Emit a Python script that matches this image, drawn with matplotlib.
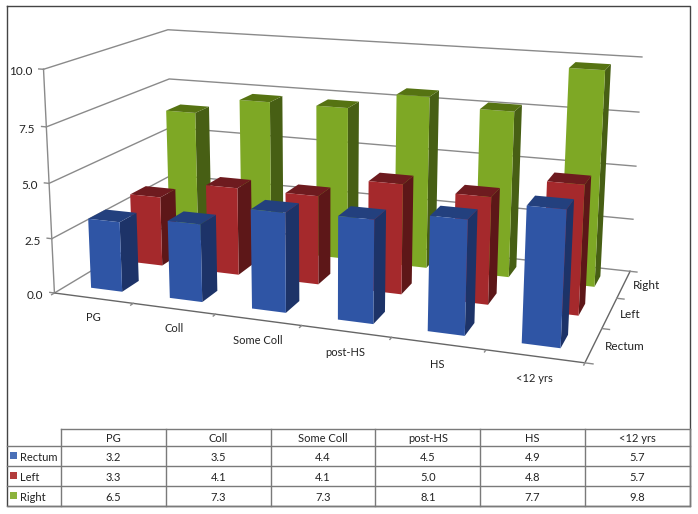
import numpy as np
import matplotlib
matplotlib.use('Agg')
from matplotlib import pyplot as plt

plt.rcParams['font.family'] = ['Lato', 'DejaVu Sans']

# data
categories = ['PG', 'Coll', 'Some Coll', 'post-HS', 'HS', '<12 yrs']
series_names = ['Rectum', 'Left', 'Right']
rectum = [3.2, 3.5, 4.4, 4.5, 4.9, 5.7]
left = [3.3, 4.1, 4.1, 5.0, 4.8, 5.7]
right = [6.5, 7.3, 7.3, 8.1, 7.7, 9.8]
z_ticks = [0.0, 2.5, 5.0, 7.5, 10.0]

# front, side, top colours of each series
front_colors = ['#2f55a5', '#a5292c', '#7ea825']
side_colors = ['#1d3368', '#5d1718', '#475f14']
top_colors = ['#23407e', '#6e1b1f', '#567312']
swatch_colors = ['#4a70b8', '#b33c3c', '#8cb33c']
grid_color = '#8a8a8a'
text_color = '#222222'

BAR_W = 0.4
W, H = 698, 514

# camera: where some corners of the box are in the picture (x, depth, z) -> pixel
cam_xyz = np.array([[0, 0, 0], [0, 0, 2.5], [0, 0, 5], [0, 0, 7.5], [0, 0, 10],
                    [6, 0, 0],
                    [0, 3, 0], [0, 3, 7.5], [0, 3, 10],
                    [6, 3, 0], [6, 3, 2.5], [6, 3, 5], [6, 3, 7.5], [6, 3, 10]], dtype=float)
cam_px = np.array([[55, 292], [52.3, 237], [49, 182.7], [46.7, 126.7], [42, 71],
                   [585, 365],
                   [172, 225], [170, 77.7], [168.3, 29.3],
                   [630, 269], [633, 219], [636, 166], [638.7, 112], [642, 58]], dtype=float)


def fit_camera(xyz, uv):
    # plain DLT, gives the 3x4 projection
    rows = []
    for (x, y, z), (u, v) in zip(xyz, uv):
        rows.append([x, y, z, 1, 0, 0, 0, 0, -u*x, -u*y, -u*z, -u])
        rows.append([0, 0, 0, 0, x, y, z, 1, -v*x, -v*y, -v*z, -v])
    _, _, vt = np.linalg.svd(np.array(rows))
    return vt[-1].reshape(3, 4)


def to_pixel(x, y, z):
    p = P_px @ np.array([x, y, z, 1.0])
    return p[0]/p[2], p[1]/p[2]


P_px = fit_camera(cam_xyz, cam_px)

fig = plt.figure(figsize=(W/100, H/100), dpi=100)

# 3D axes has to stay square, so let it stick out of the figure
ax = fig.add_axes([0, (1 - W/H)/2, 1, W/H], projection='3d', computed_zorder=False)
ax.set_axis_off()
ax.patch.set_alpha(0)

# walls and floor
lw_grid = 1.0
for z in z_ticks:
    ax.plot([0, 0, 6], [0, 3, 3], [z, z, z], color=grid_color, lw=lw_grid, zorder=1)
    ax.plot([0, -0.06], [0, 0], [z, z], color=grid_color, lw=lw_grid, zorder=1)
ax.plot([0, 0], [0, 0], [0, 10], color=grid_color, lw=lw_grid, zorder=1)
ax.plot([0, 6, 6], [0, 0, 3], [0, 0, 0], color='#666666', lw=lw_grid, zorder=1)
for i in range(7):
    ax.plot([i, i], [0, -0.06], [0, 0], color=grid_color, lw=lw_grid, zorder=1)
for j in range(4):
    ax.plot([6, 6.08], [j, j], [0, 0], color=grid_color, lw=lw_grid, zorder=1)

# bars, back row first so the front ones cover them
series = [rectum, left, right]
for j in [2, 1, 0]:
    for i in range(6):
        # order in bar3d: bottom, top, -y, +y, -x, +x
        cols = ['none', top_colors[j], front_colors[j], 'none', 'none', side_colors[j]]
        ax.bar3d(i + 0.5 - BAR_W/2, j + 0.5 - BAR_W/2, 0, BAR_W, BAR_W, series[j][i],
                 color=cols, shade=False, linewidth=0, edgecolor='none', zorder=10 + (2 - j))

# frame, table and labels, in picture pixels
ov = fig.add_axes([0, 0, 1, 1], zorder=5)
ov.set_xlim(0, W)
ov.set_ylim(H, 0)
ov.axis('off')

# axis labels go through the camera too
for z in z_ticks:
    px_x, px_y = to_pixel(0, 0, z)
    ov.text(px_x - 11, px_y + 2.5, '%.1f' % z, ha='right', va='center', fontsize=8.5, color=text_color)
for i, name in enumerate(categories):
    px_x, px_y = to_pixel(i*0.96 + 0.81, -0.55, 0)
    ov.text(px_x, px_y, name, ha='center', va='center', fontsize=8, color=text_color)
for j, name in enumerate(series_names):
    px_x, px_y = to_pixel(6.11, j + 0.5, 0)
    ov.text(px_x, px_y, name, ha='left', va='center', fontsize=8.5, color=text_color)

frame_c = '#444444'
ov.plot([7, 690, 690, 7, 7], [6, 6, 506, 506, 6], color=frame_c, lw=1.0)

col_x = [61 + 104.8*i for i in range(7)]
row_y = [429, 446, 466, 486, 506]
table_c = '#7a7a7a'
ov.plot([61, 690], [row_y[0], row_y[0]], color=table_c, lw=1.0)
for y in row_y[1:]:
    ov.plot([7, 690], [y, y], color=table_c, lw=1.0)
for x in col_x:
    ov.plot([x, x], [row_y[0], row_y[-1]], color=table_c, lw=1.0)
for i, name in enumerate(categories):
    xc = (col_x[i] + col_x[i+1])/2
    ov.text(xc, (row_y[0] + row_y[1])/2 + 1.5, name, ha='center', va='center', fontsize=8, color=text_color)
    for j in range(3):
        ov.text(xc, (row_y[j+1] + row_y[j+2])/2 + 1.5, '%.1f' % series[j][i], ha='center', va='center',
                fontsize=8, color=text_color)
for j, name in enumerate(series_names):
    y0 = row_y[j+1]
    ov.add_patch(plt.Rectangle((10, y0 + 6), 7, 7, color=swatch_colors[j], lw=0))
    ov.text(20, y0 + 11.5, name, ha='left', va='center', fontsize=8, color=text_color)

# projection is set last, when nothing can change the view limits any more
ax.set_autoscale_on(False)
ax.apply_aspect()
px = np.column_stack([cam_px[:, 0], H - cam_px[:, 1]])
uv = ax.transData.inverted().transform(px)
P = fit_camera(cam_xyz, uv)
M = np.vstack([P[0], P[1], [0, 1e-3, 0, 0.5], P[2]])
ax.get_proj = lambda: M

fig.savefig('out.png', dpi=100)
